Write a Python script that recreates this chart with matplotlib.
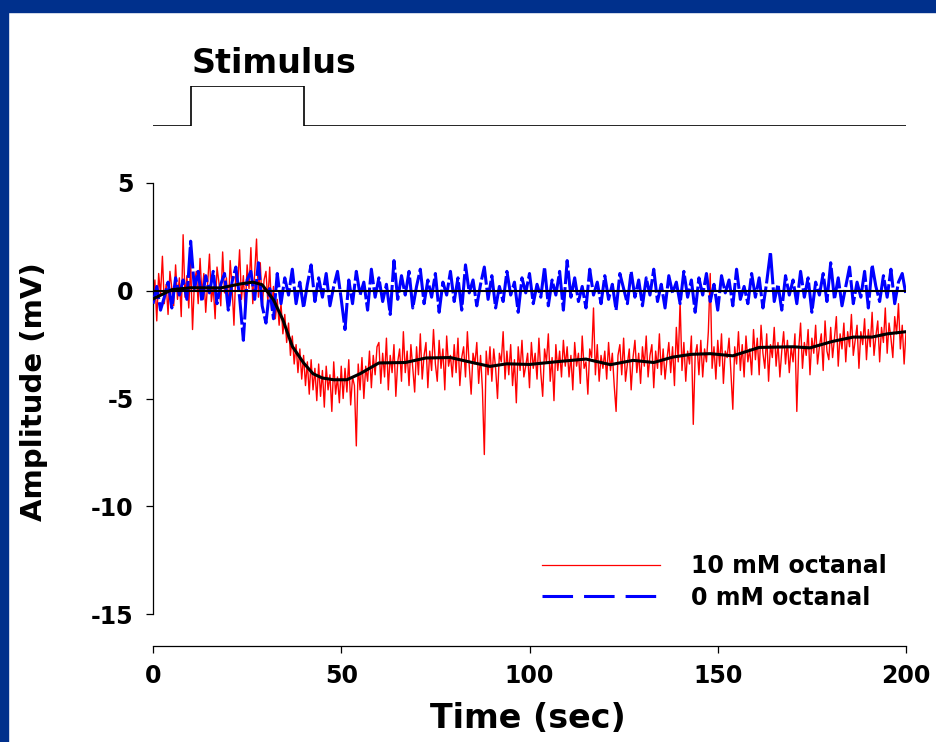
import numpy as np
import matplotlib
matplotlib.use("Agg")
import matplotlib.pyplot as plt
from matplotlib.patches import Rectangle
from matplotlib.lines import Line2D

# stimulus protocol (time in sec, on/off)
stim_t = [0, 10, 10, 40, 40, 200]
stim_on = [0, 0, 1, 1, 0, 0]

# 10 mM octanal trace, sampled every 0.5 s from 0 to 200 s (mV)
red_mv = [
    -0.9, 0.5, -1.4, 0.8, -0.2, 1.6, -0.6, 0.3, -1.1, 0.9, 0.1, -0.7, 1.2, -0.4, 0.6, -1.2, 2.6, -0.3, 0.7, -0.8,
    1.3, -1.8, 0.4, 0.9, -0.6, 1.5, -0.2, 0.8, -1.0, 0.3, 1.7, -0.5, 0.2, -1.3, 1.1, 0.4, -0.7, 1.8, -0.1, 0.6,
    -0.9, 1.4, 0.2, -1.6, 0.9, 0.3, 1.9, -0.4, 0.7, -1.0, 1.2, 0.1, 2.0, -0.6, 0.8, 2.4, -0.3, 1.3, -0.8, 0.5,
    0.9, -0.5, 1.1, -0.9, 0.2, -1.3, -0.4, -1.6, -0.6, -2.0, -1.1, -2.4, -1.5, -3.0, -2.1, -3.4, -2.5, -3.8, -2.7, -4.1,
    -3.0, -4.4, -3.3, -4.8, -3.2, -4.6, -3.6, -5.1, -3.4, -4.9, -3.7, -5.4, -3.5, -4.6, -3.9, -5.6, -3.3, -4.8, -4.0, -5.2,
    -3.5, -5.0, -3.6, -4.7, -3.2, -5.3, -4.0, -4.4, -7.2, -3.4, -4.6, -3.1, -5.0, -3.5, -4.2, -2.8, -4.5, -3.0, -3.9, -2.6,
    -2.4, -4.3, -2.9, -4.0, -2.2, -4.6, -3.0, -3.8, -2.5, -4.9, -3.3, -2.7, -4.2, -1.9, -3.8, -2.8, -4.4, -2.5, -3.6, -4.7,
    -2.6, -3.9, -2.0, -4.1, -3.0, -2.4, -4.5, -2.8, -3.7, -1.8, -3.4, -4.2, -2.3, -3.6, -2.7, -4.6, -2.1, -3.5, -3.0, -4.0,
    -2.5, -3.8, -2.2, -4.4, -3.1, -2.6, -4.0, -1.9, -3.5, -4.8, -2.9, -3.4, -2.4, -4.3, -3.0, -4.6, -7.6, -2.8, -3.9, -2.6,
    -4.2, -2.7, -3.6, -5.0, -2.9, -3.3, -1.9, -4.1, -2.8, -3.9, -2.5, -4.4, -3.2, -5.2, -2.6, -3.7, -2.3, -4.0, -3.5, -2.9,
    -4.5, -2.4, -3.6, -2.9, -4.1, -2.2, -3.8, -4.9, -2.7, -3.3, -2.0, -4.2, -3.1, -5.1, -2.5, -3.7, -2.8, -4.0, -2.3, -3.5,
    -2.6, -4.0, -3.0, -4.6, -2.4, -3.5, -2.9, -4.3, -2.1, -3.6, -3.3, -4.8, -2.7, -3.1, -0.8, -3.9, -2.5, -4.2, -3.0, -3.6,
    -2.8, -4.1, -2.4, -3.7, -2.9, -4.4, -5.6, -3.0, -2.5, -3.9, -2.2, -4.2, -3.4, -2.7, -4.6, -3.1, -2.3, -3.8, -2.9, -4.3,
    -2.6, -3.5, -2.1, -4.0, -3.0, -2.5, -4.5, -2.8, -3.6, -2.0, -3.9, -2.7, -4.1, -3.2, -2.4, -3.8, -2.6, -4.4, -1.7, -3.3,
    -0.5, -3.7, -2.4, -4.2, -2.8, -3.4, -2.1, -6.2, -3.0, -2.5, -3.9, -2.3, -4.0, -2.7, -3.3, -1.9, 0.8, -3.6, -2.6, -4.1,
    -2.3, -3.5, -2.0, -4.3, -2.8, -3.1, -2.2, -3.8, -5.5, -2.6, -3.4, -1.9, -3.7, -2.5, -4.0, -2.1, -3.3, -2.7, -3.9, -1.8,
    -3.2, -2.2, -3.9, -1.6, -2.9, -3.6, -2.0, -4.2, -2.5, -3.1, -1.7, -3.5, -2.4, -4.0, -2.8, -1.9, -3.4, -2.3, -3.8, -2.6,
    -3.3, -2.0, -5.6, -2.7, -1.5, -3.6, -2.4, -3.0, -1.8, -3.9, -2.2, -2.9, -1.6, -3.4, -2.6, -2.0, -3.7, -1.4, -2.8, -3.2,
    -1.7, -3.1, -2.2, -1.2, -3.5, -2.0, -2.7, -1.5, -3.3, -1.9, -2.6, -1.1, -3.0, -2.3, -1.6, -3.6, -1.9, -2.5, -1.3, -3.2,
    -1.8, -2.6, -1.0, -3.0, -2.1, -1.4, -3.3, -1.7, -2.4, -0.8, -2.9, -1.5, -2.2, -3.1, -1.2, -2.0, -0.6, -2.7, -1.6, -3.4,
    -1.9,
]

# 0 mM octanal trace, sampled every 1 s from 0 to 200 s (mV)
blue_mv = [
    -0.6, 0.2, -0.9, -0.3, 0.4, -0.8, 0.6, -0.2, 0.5, -0.4,
    2.3, 0.1, 0.9, -0.5, 0.7, -0.1, 0.9, -0.6, 0.3, 0.8,
    -0.9, 0.4, 1.1, -0.3, -2.3, 0.5, 0.9, -0.4, 1.3, -0.7,
    -1.5, 0.1, -1.3, 0.8, -0.6, 0.6, -0.2, 1.0, -0.6, 0.4,
    -0.8, 0.3, 1.2, -0.5, 0.6, -0.3, 0.8, -0.7, 0.2, 0.9,
    -0.4, -1.8, 0.5, -0.6, 0.9, -0.2, 0.4, -0.9, 1.0, -0.3,
    0.6, -0.5, 0.3, -1.1, 1.4, -0.4, 0.7, -0.2, 0.9, -0.8,
    0.2, 1.0, -0.6, 0.5, -0.3, 0.8, -1.0, 0.4, -0.2, 0.9,
    -0.5, 0.6, -0.9, 1.2, -0.1, 0.5, -0.7, 0.3, 1.1, -0.4,
    0.7, -0.8, 0.2, -0.5, 0.9, -0.2, 0.4, -1.0, 0.6, -0.1,
    0.8, -0.6, 0.3, -0.3, 1.1, -0.7, 0.5, -0.2, 0.9, -0.9,
    1.4, -0.3, 0.6, -0.5, 0.2, -0.8, 1.0, -0.2, 0.4, -0.6,
    0.7, -0.4, 0.3, -0.9, 0.8, 0.1, -0.6, 0.9, -0.3, 0.5,
    -0.7, 0.6, -0.2, 1.0, -0.5, 0.3, -0.8, 0.7, -0.1, 0.4,
    -0.6, 0.9, -0.3, 0.5, -1.0, 0.6, -0.2, 0.8, -0.5, 0.3,
    -0.9, 0.7, -0.1, 0.5, -0.7, 1.0, -0.4, 0.2, -0.6, 0.8,
    -0.3, 0.6, -0.8, 0.4, 1.8, -0.5, 0.3, -0.9, 0.7, -0.2,
    0.5, -0.6, 0.9, -0.3, 0.6, -1.0, 0.4, -0.2, 0.8, -0.5,
    1.3, -0.4, 0.6, -0.7, 0.2, 1.1, -0.6, 0.4, -0.3, 0.9,
    -0.8, 1.2, 0.2, -0.5, 0.7, -0.3, 1.0, -0.6, 0.4, 0.8,
    -0.2,
]

# smoothed fit of the 10 mM trace
fit_t = [0, 5, 10, 18, 23, 26.5, 29, 32, 34.5, 37, 40, 42.5, 45, 48, 51.5, 55, 60, 67, 72.5, 79,
         84, 89.5, 94, 100, 108, 115, 121.5, 127.5, 133, 138, 143, 148, 154, 161, 170, 174.5,
         180.5, 186, 191, 195, 200]
fit_mv = [-0.38, 0.05, 0.14, 0.13, 0.31, 0.40, 0.28, -0.42, -1.35, -2.58, -3.35, -3.85, -4.05, -4.13, -4.13,
          -3.85, -3.35, -3.33, -3.12, -3.10, -3.30, -3.51, -3.39, -3.42, -3.28, -3.17, -3.43, -3.23, -3.33,
          -3.08, -2.95, -2.92, -3.02, -2.63, -2.60, -2.65, -2.35, -2.15, -2.15, -2.00, -1.90]

labels = ["10 mM octanal", "0 mM octanal"]
x_ticks = [0, 50, 100, 150, 200]
y_ticks = [5, 0, -5, -10, -15]

plt.rcParams['font.family'] = 'DejaVu Sans'
plt.rcParams['font.weight'] = 'bold'
plt.rcParams['axes.unicode_minus'] = False

W, H = 936, 742
fig = plt.figure(figsize=(W / 100, H / 100), dpi=100)

# blue frame at top and left
fig.patches.append(Rectangle((0, 1 - 12 / H), 1, 12 / H, transform=fig.transFigure,
                             color='#00308c', zorder=0))
fig.patches.append(Rectangle((0, 0), 8 / W, 1, transform=fig.transFigure,
                             color='#00308c', zorder=0))

# main axes
ax = fig.add_axes([153 / W, 1 - 614 / H, 753 / W, 431 / H])
t_red = np.linspace(0, 200, len(red_mv))
t_blue = np.linspace(0, 200, len(blue_mv))
ax.plot(t_red, red_mv, color='red', lw=1.0, zorder=2)
ax.plot(t_blue, blue_mv, color='#0000ff', lw=2.2, dashes=(10, 1.0), zorder=3)
ax.axhline(0, color='black', lw=1.5, zorder=4)
ax.plot(fit_t, fit_mv, color='black', lw=2.2, zorder=5)

ax.set_xlim(0, 200)
ax.set_ylim(-15, 5)
ax.spines['top'].set_visible(False)
ax.spines['right'].set_visible(False)
ax.spines['bottom'].set_position(('outward', 23))
for s in ['left', 'bottom']:
    ax.spines[s].set_linewidth(0.9)
ax.set_xticks(x_ticks)
ax.set_yticks(y_ticks)
ax.tick_params(axis='both', direction='out', length=5, width=0.9, labelsize=17)
ax.tick_params(axis='x', pad=8)
ax.tick_params(axis='y', pad=9)

ax.set_xlabel('Time (sec)', fontsize=24, fontweight='bold')
ax.xaxis.label.set_va('center')
ax.xaxis.set_label_coords((528 - 153) / 753, (614 - 718) / 431)
ax.set_ylabel('Amplitude (mV)', fontsize=21, fontweight='bold')
ax.yaxis.label.set_va('center')
ax.yaxis.set_label_coords((34 - 153) / 753, (614 - 392) / 431)

handles = [Line2D([], [], color='red', lw=0.9),
           Line2D([], [], color='#0000ff', lw=2.2, dashes=(10, 3.6))]
ax.legend(handles, labels, loc='upper left', bbox_to_anchor=(542 / W, 1 - 554 / H),
          bbox_transform=fig.transFigure, frameon=False, fontsize=17,
          handlelength=5.0, handletextpad=1.3, labelspacing=0.32, borderpad=0,
          borderaxespad=0)

# stimulus trace
ax2 = fig.add_axes([153 / W, 1 - 126 / H, 753 / W, 40 / H])
ax2.plot(stim_t, stim_on, color='black', lw=1.2)
ax2.set_xlim(0, 200)
ax2.set_ylim(0, 1)
ax2.axis('off')
ax2.text(10.3, 1.55, 'Stimulus', fontsize=24, fontweight='bold', ha='left', va='center',
         clip_on=False)

fig.savefig('out.png', dpi=100)
